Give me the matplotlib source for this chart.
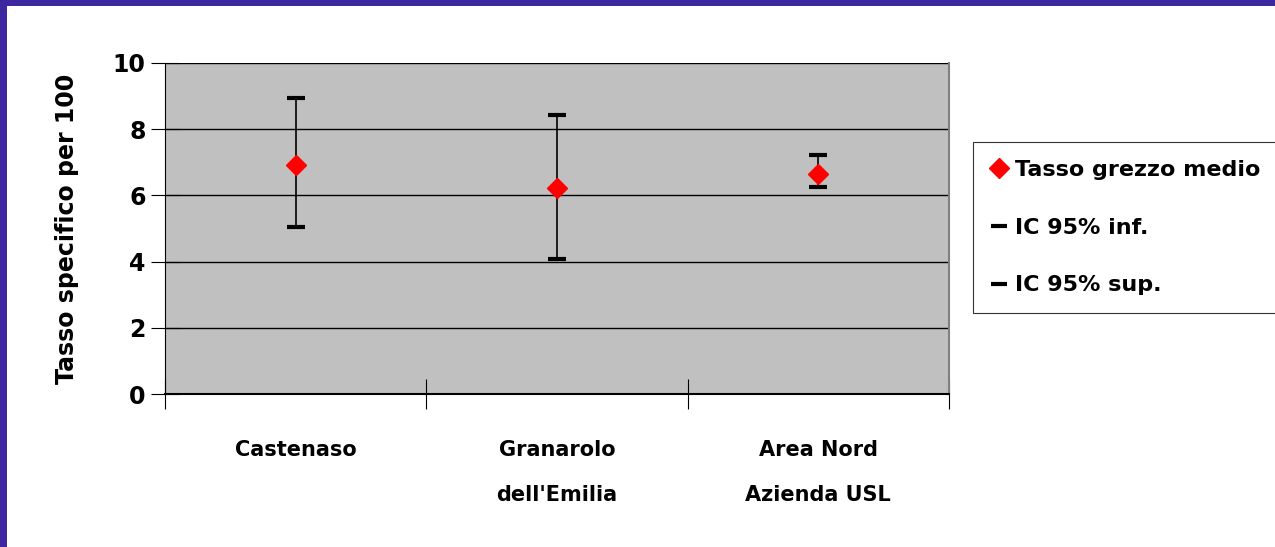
import matplotlib.pyplot as plt
from matplotlib.patches import Rectangle
from matplotlib.lines import Line2D

# data
categories = ["Castenaso", "Granarolo\ndell'Emilia", "Area Nord\nAzienda USL"]
tasso_medio = [6.92, 6.22, 6.65]
ic_inf = [5.05, 4.08, 6.25]
ic_sup = [8.94, 8.43, 7.22]

plt.rcParams['font.family'] = ['DejaVu Sans']
plt.rcParams['font.weight'] = 'bold'

fig = plt.figure(figsize=(12.75, 5.47), dpi=100)

# purple slide frame
fig.patches.append(Rectangle((0, 0), 7 / 1275, 1, transform=fig.transFigure,
                             facecolor='#3d28a0', edgecolor='none'))
fig.patches.append(Rectangle((0, 1 - 6 / 547), 1, 6 / 547, transform=fig.transFigure,
                             facecolor='#3d28a0', edgecolor='none'))

ax = fig.add_axes([165 / 1275, 1 - 394 / 547, 784 / 1275, 331 / 547])
ax.set_facecolor('#c0c0c0')

x = [i + 0.5 for i in range(len(categories))]
ax.vlines(x, ic_inf, ic_sup, color='black', lw=1.2, zorder=3)
ax.plot(x, ic_inf, ls='none', marker='_', ms=13.5, mew=3, color='black', zorder=4)
ax.plot(x, ic_sup, ls='none', marker='_', ms=13.5, mew=3, color='black', zorder=4)
ax.plot(x, tasso_medio, ls='none', marker='D', ms=10, color='#ff0000', zorder=5)

ax.set_xlim(0, 3)
ax.set_ylim(0, 10)
ax.set_yticks([0, 2, 4, 6, 8, 10])
ax.yaxis.grid(True, color='black', lw=1)
ax.set_axisbelow(True)

ax.set_xticks([0, 1, 2, 3])
ax.set_xticklabels([])
ax.set_xticks(x, minor=True)
ax.set_xticklabels(categories, minor=True, fontsize=15, fontweight='bold',
                   linespacing=2.6, va='top')
ax.tick_params(axis='x', which='major', direction='inout', length=22, width=0.8)
ax.tick_params(axis='x', which='minor', length=0, pad=33)
ax.tick_params(axis='y', direction='inout', length=20, width=0.8, labelsize=17, pad=4)

for s in ['left', 'bottom']:
    ax.spines[s].set_color('black')
ax.spines['bottom'].set_linewidth(1.5)
ax.spines['right'].set_color('#808080')
ax.spines['right'].set_linewidth(1.5)
ax.spines['top'].set_visible(False)

ax.set_ylabel('Tasso specifico per 100', fontsize=17, fontweight='bold', labelpad=24)

handles = [
    Line2D([], [], ls='none', marker='D', ms=10, color='#ff0000'),
    Line2D([], [], ls='none', marker='_', ms=12, mew=3, color='black'),
    Line2D([], [], ls='none', marker='_', ms=12, mew=3, color='black'),
]
leg = fig.legend(handles, ['Tasso grezzo medio', 'IC 95% inf.', 'IC 95% sup.'],
                 loc='upper left', bbox_to_anchor=(973 / 1275, 1 - 142 / 547),
                 fontsize=16, frameon=True, fancybox=False, edgecolor='black',
                 handlelength=0.7, handletextpad=0.4, labelspacing=1.7,
                 borderpad=0.8, borderaxespad=0)
leg.get_frame().set_linewidth(0.8)

fig.savefig('out.png', dpi=100)
